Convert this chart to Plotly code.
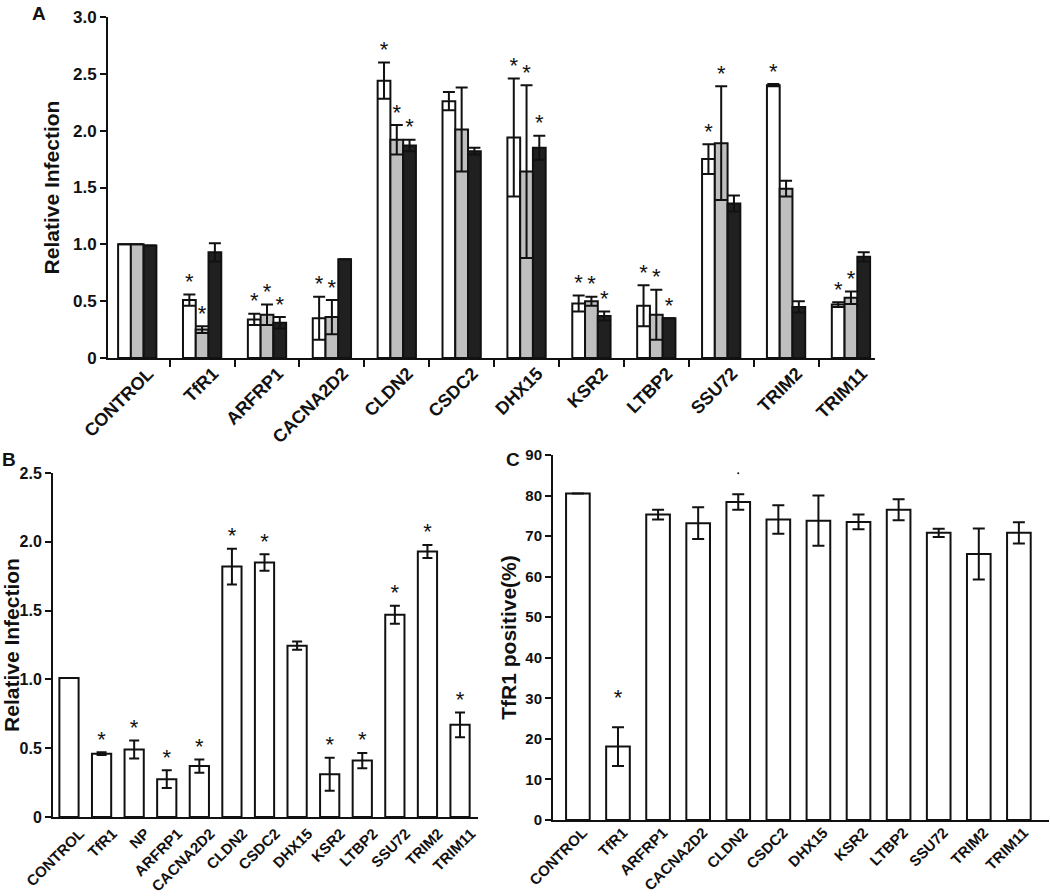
import plotly.graph_objects as go

# ---------------- Panel A data ----------------
a_genes = ["CONTROL", "TfR1", "ARFRP1", "CACNA2D2", "CLDN2", "CSDC2", "DHX15",
           "KSR2", "LTBP2", "SSU72", "TRIM2", "TRIM11"]
a_white = [1.00, 0.51, 0.34, 0.35, 2.44, 2.26, 1.94, 0.48, 0.46, 1.75, 2.40, 0.47]
a_white_err = [0.0, 0.05, 0.05, 0.19, 0.16, 0.08, 0.52, 0.07, 0.18, 0.13, 0.01, 0.02]
a_gray = [1.00, 0.25, 0.38, 0.36, 1.92, 2.01, 1.64, 0.50, 0.38, 1.89, 1.49, 0.53]
a_gray_err = [0.0, 0.03, 0.09, 0.15, 0.13, 0.37, 0.76, 0.04, 0.22, 0.50, 0.07, 0.055]
a_black = [0.99, 0.93, 0.31, 0.87, 1.87, 1.82, 1.85, 0.37, 0.35, 1.36, 0.45, 0.89]
a_black_err = [0.0, 0.08, 0.05, 0.0, 0.05, 0.03, 0.105, 0.04, 0.0, 0.07, 0.05, 0.04]
a_white_star = [0, 1, 1, 1, 1, 0, 1, 1, 1, 1, 1, 1]
a_gray_star = [0, 1, 1, 1, 1, 0, 1, 1, 1, 1, 0, 1]
a_black_star = [0, 0, 1, 0, 1, 0, 1, 1, 1, 0, 0, 0]
a_yticks = [0, 0.5, 1.0, 1.5, 2.0, 2.5, 3.0]
a_yticktext = ["0", "0.5", "1.0", "1.5", "2.0", "2.5", "3.0"]

# ---------------- Panel B data ----------------
b_genes = ["CONTROL", "TfR1", "NP", "ARFRP1", "CACNA2D2", "CLDN2", "CSDC2", "DHX15",
           "KSR2", "LTBP2", "SSU72", "TRIM2", "TRIM11"]
b_vals = [1.01, 0.46, 0.49, 0.275, 0.37, 1.82, 1.85, 1.245, 0.31, 0.41, 1.47, 1.93, 0.67]
b_err = [0.0, 0.01, 0.065, 0.065, 0.048, 0.13, 0.06, 0.03, 0.12, 0.055, 0.065, 0.047, 0.09]
b_star = [0, 1, 1, 1, 1, 1, 1, 0, 1, 1, 1, 1, 1]
b_yticks = [0, 0.5, 1.0, 1.5, 2.0, 2.5]
b_yticktext = ["0", "0.5", "1.0", "1.5", "2.0", "2.5"]

# ---------------- Panel C data ----------------
c_genes = ["CONTROL", "TfR1", "ARFRP1", "CACNA2D2", "CLDN2", "CSDC2", "DHX15",
           "KSR2", "LTBP2", "SSU72", "TRIM2", "TRIM11"]
c_vals = [80.5, 18.1, 75.3, 73.2, 78.4, 74.1, 73.8, 73.5, 76.5, 70.8, 65.6, 70.8]
c_err = [0.0, 4.8, 1.2, 3.9, 1.9, 3.5, 6.2, 1.8, 2.6, 1.0, 6.3, 2.6]
c_star = [0, 1, 0, 0, 0, 0, 0, 0, 0, 0, 0, 0]
c_dot_gene = ["CLDN2"]
c_dot_val = [85.5]
c_yticks = [0, 10, 20, 30, 40, 50, 60, 70, 80, 90]

FONT = "Liberation Sans, Arial, sans-serif"
LINE = "#111111"

fig = go.Figure()


def err(arr, w):
    return dict(type="data", array=arr, visible=True, color=LINE, thickness=2, width=w)


star_font = dict(family=FONT, size=22, color=LINE)

# Panel A bars
for name, vals, errs, stars, color, grp in [
    ("white", a_white, a_white_err, a_white_star, "#ffffff", "w"),
    ("gray", a_gray, a_gray_err, a_gray_star, "#bfbfbf", "g"),
    ("black", a_black, a_black_err, a_black_star, "#202020", "k"),
]:
    fig.add_trace(go.Bar(x=a_genes, y=vals, error_y=err(errs, 6),
                         marker=dict(color=color, line=dict(color=LINE, width=2)),
                         offsetgroup=grp, xaxis="x", yaxis="y", showlegend=False))
    fig.add_trace(go.Scatter(
        x=a_genes, y=[v + e if s else None for v, e, s in zip(vals, errs, stars)],
        mode="text", text=["*" if s else "" for s in stars], textposition="top center",
        textfont=star_font, offsetgroup=grp,
        xaxis="x", yaxis="y", showlegend=False, cliponaxis=False))

# Panel B
fig.add_trace(go.Bar(x=b_genes, y=b_vals, error_y=err(b_err, 5),
                     marker=dict(color="#ffffff", line=dict(color=LINE, width=2)),
                     xaxis="x2", yaxis="y2", showlegend=False))
fig.add_trace(go.Scatter(
    x=b_genes, y=[v + e if s else None for v, e, s in zip(b_vals, b_err, b_star)],
    mode="text", text=["*" if s else "" for s in b_star], textposition="top center",
    textfont=star_font, xaxis="x2", yaxis="y2", showlegend=False, cliponaxis=False))

# Panel C
fig.add_trace(go.Bar(x=c_genes, y=c_vals, error_y=err(c_err, 6),
                     marker=dict(color="#ffffff", line=dict(color=LINE, width=2)),
                     xaxis="x3", yaxis="y3", showlegend=False))
fig.add_trace(go.Scatter(
    x=c_genes, y=[v + e + 4 if s else None for v, e, s in zip(c_vals, c_err, c_star)],
    mode="text", text=["*" if s else "" for s in c_star], textposition="top center",
    textfont=star_font, xaxis="x3", yaxis="y3", showlegend=False, cliponaxis=False))
fig.add_trace(go.Scatter(x=c_dot_gene, y=c_dot_val, mode="markers",
                         marker=dict(size=2, color=LINE), xaxis="x3", yaxis="y3",
                         showlegend=False))


def bold(size):
    return dict(family=FONT, size=size, color=LINE, weight="bold")


title_font = bold(21)

common_y = dict(showline=True, linecolor=LINE, linewidth=2, ticks="outside",
                ticklen=6, tickwidth=2, tickcolor=LINE, showgrid=False,
                zeroline=False, automargin=False)
common_x = dict(showline=True, linecolor=LINE, linewidth=2, showgrid=False,
                zeroline=False, tickangle=-45, type="category", automargin=False)

fig.update_layout(
    template="none",
    width=1050, height=896, margin=dict(l=0, r=0, t=0, b=0),
    paper_bgcolor="white", plot_bgcolor="white",
    barmode="group", bargap=0.41, bargroupgap=0, scattermode="group", scattergap=0.41,
    xaxis=dict(domain=[0.1029, 0.8333], anchor="y", range=[-0.45, 11.37],
               ticks="outside", tickson="boundaries", ticklen=7, tickwidth=2,
               tickcolor=LINE, tickfont=bold(18), ticklabelshift=11,
               ticklabelstandoff=-4, **common_x),
    yaxis=dict(domain=[0.6004, 0.981], anchor="x", range=[0, 3.0],
               tickvals=a_yticks, ticktext=a_yticktext, tickfont=bold(17),
               title=dict(text="Relative Infection", font=title_font, standoff=8),
               **common_y),
    xaxis2=dict(domain=[0.0505, 0.4552], anchor="y2", range=[-0.49, 12.55],
                ticks="", tickfont=bold(15), ticklabelshift=11, **common_x),
    yaxis2=dict(domain=[0.0882, 0.4721], anchor="x2", range=[0, 2.5],
                tickvals=b_yticks, ticktext=b_yticktext, tickfont=bold(16),
                title=dict(text="Relative Infection", font=title_font, standoff=2),
                **common_y),
    xaxis3=dict(domain=[0.5267, 0.999], anchor="y3", range=[-0.62, 11.75],
                ticks="", tickfont=bold(15), ticklabelshift=5,
                ticklabelstandoff=-4, **common_x),
    yaxis3=dict(domain=[0.0848, 0.4922], anchor="x3", range=[0, 90],
                tickvals=c_yticks, tickfont=bold(15),
                title=dict(text="TfR1 positive(%)", font=title_font, standoff=3),
                **common_y),
    annotations=[
        dict(text="A", x=30 / 1050, y=1 - 1 / 896, xref="paper", yref="paper",
             xanchor="left", yanchor="top", showarrow=False, font=bold(19)),
        dict(text="B", x=0 / 1050, y=1 - 447 / 896, xref="paper", yref="paper",
             xanchor="left", yanchor="top", showarrow=False, font=bold(19)),
        dict(text="C", x=504 / 1050, y=1 - 447 / 896, xref="paper", yref="paper",
             xanchor="left", yanchor="top", showarrow=False, font=bold(19)),
    ],
)

fig.write_html(
    "out.html",
    config={"displayModeBar": False},
    post_script="document.body.style.margin='0';document.body.style.overflow='hidden';",
)
